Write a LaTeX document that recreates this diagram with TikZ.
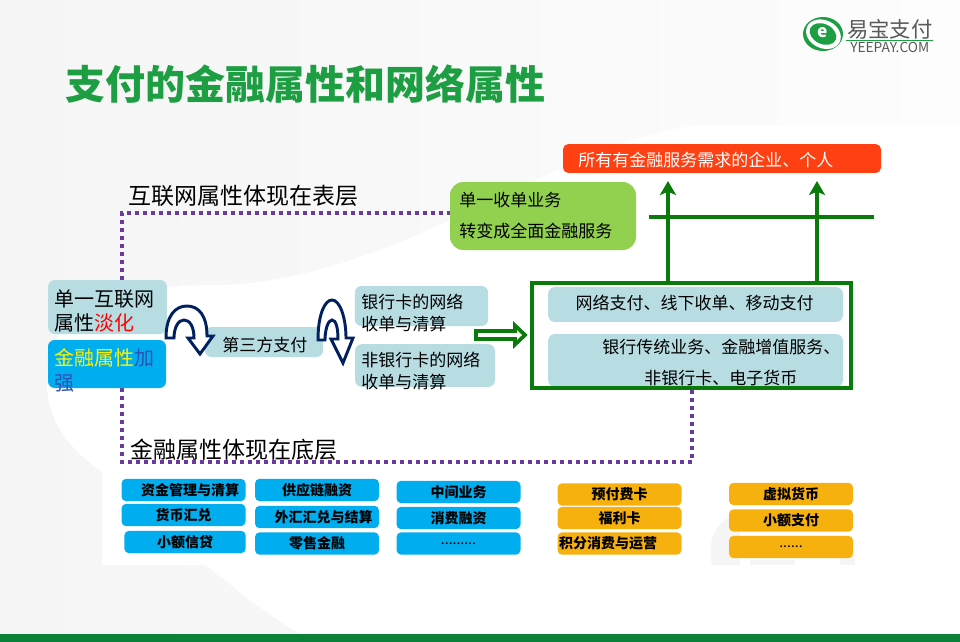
\documentclass[tikz,border=0pt]{standalone}
\usepackage{fontspec}
\setmainfont{Noto Sans CJK SC}
\usetikzlibrary{arrows.meta}
\definecolor{paleblue}{HTML}{B7DDE3}
\definecolor{skyblue}{HTML}{00AEEF}
\definecolor{amber}{HTML}{F7B10F}
\definecolor{leaf}{HTML}{92D050}
\definecolor{redbar}{HTML}{FF4012}
\definecolor{darkgreen}{HTML}{0A7B0A}
\definecolor{titlegreen}{HTML}{1E9E42}
\definecolor{footgreen}{HTML}{0B8238}
\definecolor{dotpurple}{HTML}{6B3A9E}
\definecolor{navy}{HTML}{002060}
\definecolor{inkblue}{HTML}{2F4FB5}
\definecolor{faint}{HTML}{F5F5F5}
\definecolor{fainter}{HTML}{FDFDFD}
\tikzset{
  roundbox/.style={rounded corners=5pt,inner sep=0pt,text=black},
  palebox/.style={roundbox,fill=paleblue},
  bluebox/.style={roundbox,rounded corners=3.5pt,fill=skyblue,minimum width=93pt,minimum height=16.8pt,font=\fontsize{10.5}{12}\selectfont\bfseries},
  amberbox/.style={bluebox,fill=amber},
  bodytext/.style={inner sep=0pt,align=left,anchor=west,font=\fontsize{12.75}{16.5}\selectfont},
  headtext/.style={inner sep=0pt,anchor=west,font=\fontsize{17.25}{20}\selectfont},
  dotline/.style={dotpurple,line width=2.8pt,dash pattern=on 2.8pt off 3.2pt},
  greenline/.style={darkgreen,line width=3pt},
  uparrow/.style={greenline,-{Stealth[length=10.5pt,width=12pt,inset=2.5pt]}},
  turn/.style={draw=navy,fill=white,line width=2.2pt,line join=miter}
}
\begin{document}
\begin{tikzpicture}[x=0.75pt,y=-0.75pt]
  \useasboundingbox (0,0) rectangle (960,642);
  % Background
  \shade[left color=faint,right color=fainter] (0,0) rectangle (960,634);
  \fill[white] (47,385) .. controls (47,305) and (110,285) .. (220,285) .. controls (400,280) and (560,140) .. (700,125) -- (960,125) -- (960,634) -- (300,634) .. controls (260,610) and (225,580) .. (205,565) -- (102,565) -- (102,472) .. controls (70,450) and (47,420) .. (47,385) -- cycle;
  \fill[white] (103,475) rectangle (855,565);
  \fill[faint] (712,565) .. controls (706,535) and (720,517) .. (740,514) -- (740,565) -- cycle;
  \fill[faint] (750,560) rectangle (795,565);
  \fill[faint] (840,555) rectangle (855,565);
  \fill[footgreen] (0,634) rectangle (960,642);

  % Logo
  \fill[titlegreen] (823,34) ellipse (20 and 17);
  \fill[white,rotate around={-25:(823,34)}] (823.5,34) ellipse (18 and 14);
  \fill[titlegreen,rotate around={-25:(823,34)}] (823,34) ellipse (14 and 10);
  \node[inner sep=0pt,white,font=\fontsize{13}{13}\selectfont\bfseries] (logoe) at (823,32.5) {e};
  \node[inner sep=0pt,anchor=west,text=black!65,font=\fontsize{16}{18}\selectfont] (logocn) at (847,29) {易宝支付};
  \draw[titlegreen,line width=0.8pt] (846,40.5) -- (933,40.5);
  \node[inner sep=0pt,anchor=west,text=black!65,font=\fontsize{10.3}{11}\selectfont] (logoen) at (850,47) {YEEPAY.COM};

  % Title
  \node[inner sep=0pt,anchor=west,titlegreen,font=\fontsize{30}{34}\selectfont\bfseries] (title) at (65,84) {支付的金融属性和网络属性};

  % Dotted guide lines
  \coordinate (topleft) at (122,213);
  \coordinate (topright) at (472,213);
  \coordinate (botleft) at (122,462);
  \coordinate (botright) at (692,462);
  \draw[dotline] (122,280) -- (topleft) -- (topright);
  \draw[dotline] (122,388) -- (botleft) -- (botright) -- (692,390);

  % Layer captions
  \node[headtext] (surface) at (128,196) {互联网属性体现在表层};
  \node[headtext] (bottom) at (130,450) {金融属性体现在底层};

  % Left column
  \node[palebox,minimum width=89pt,minimum height=40.5pt] (single) at (107.5,307) {};
  \node[bodytext,font=\fontsize{15}{17.5}\selectfont] (singletext) at (54,311) {单一互联网\\属性\textcolor{red}{淡化}};
  \node[roundbox,fill=skyblue,minimum width=88.5pt,minimum height=36pt] (finance) at (107,364) {};
  \node[bodytext,font=\fontsize{15}{18.5}\selectfont,text=inkblue] (financetext) at (54,370.5) {\textcolor{yellow}{金融属性}加\\强};

  % Third party payment and card clearing
  \node[palebox,minimum width=88.5pt,minimum height=22.5pt] (third) at (264,342) {};
  \node[bodytext] (thirdtext) at (222,345) {第三方支付};
  \node[palebox,minimum width=100pt,minimum height=30pt] (bank) at (421.5,306) {};
  \node[bodytext] (banktext) at (361,313) {银行卡的网络\\收单与清算};
  \node[palebox,minimum width=105pt,minimum height=32pt] (nonbank) at (425,365.5) {};
  \node[bodytext] (nonbanktext) at (361,370.5) {非银行卡的网络\\收单与清算};

  % U-turn arrows
  \draw[turn] (166,338) .. controls (166,316) and (175,306) .. (187,306) .. controls (199,306) and (207,316) .. (207,336) -- (213,336) -- (200,354) -- (188,338) -- (194,338) .. controls (194,327) and (190,320) .. (184,320) .. controls (178,320) and (174,328) .. (174,338) -- cycle;
  \draw[turn] (318,340) .. controls (318,314) and (325,300) .. (332,300) .. controls (340,300) and (346,318) .. (346,338) -- (353,338) -- (343,363) -- (331,339) -- (338,339) .. controls (338,328) and (336,320) .. (332,320) .. controls (328,320) and (325,330) .. (325,340) -- cycle;

  % Services box
  \node[palebox,minimum width=221pt,minimum height=26.2pt] (online) at (695.5,304.5) {};
  \node[inner sep=0pt,font=\fontsize{12.75}{15}\selectfont] (onlinetext) at (694.5,303) {网络支付、线下收单、移动支付};
  \node[palebox,minimum width=221pt,minimum height=39.7pt] (trad) at (695.5,360.5) {};
  \node[inner sep=0pt,anchor=west,font=\fontsize{12.75}{15}\selectfont] (tradtext) at (602,347) {银行传统业务、金融增值服务、};
  \node[inner sep=0pt,anchor=west,font=\fontsize{12.75}{15}\selectfont] (tradtexttwo) at (644,378) {非银行卡、电子货币};
  \draw[darkgreen,line width=3pt] (532,283) rectangle (851,388);
  \coordinate (servicesa) at (668,283);
  \coordinate (servicesb) at (817,283);

  % Hollow arrow into services
  \draw[darkgreen,fill=white,line width=2.8pt] (476,331) -- (515,331) -- (515,325.5) -- (525,335) -- (515,344.5) -- (515,339) -- (476,339) -- cycle;

  % Top boxes and arrows
  \node[roundbox,fill=redbar,minimum width=238.5pt,minimum height=21.7pt,rounded corners=4pt] (target) at (722,158.5) {};
  \node[bodytext,text=white] (targettext) at (578,160) {所有有金融服务需求的企业、个人};
  \node[roundbox,fill=leaf,minimum width=139.5pt,minimum height=51pt,rounded corners=10pt] (change) at (543,216) {};
  \node[bodytext,font=\fontsize{12.75}{23.2}\selectfont] (changetext) at (459,215.5) {单一收单业务\\转变成全面金融服务};
  \draw[greenline] (649,217) -- (874,217);
  \draw[uparrow] (servicesa) -- (668,181);
  \draw[uparrow] (servicesb) -- (817,181);

  % Bottom boxes
  \node[bluebox] (capital) at (183.5,490) {\hspace*{10pt}资金管理与清算};
  \node[bluebox] (forex) at (183.5,515) {货币汇兑};
  \node[bluebox,minimum width=91pt] (micro) at (185,542) {小额信贷};
  \node[bluebox] (chain) at (317,490) {供应链融资};
  \node[bluebox] (settle) at (317,517) {\hspace*{10pt}外汇汇兑与结算};
  \node[bluebox] (retail) at (317,543.5) {零售金融};
  \node[bluebox] (middle) at (458.5,492) {中间业务};
  \node[bluebox] (consume) at (458.5,518) {消费融资};
  \node[bluebox] (moreone) at (458.5,543.5) {\mdseries .........};
  \node[amberbox] (prepaid) at (619.5,494.5) {预付费卡};
  \node[amberbox] (welfare) at (619.5,518) {福利卡};
  \node[amberbox] (points) at (619.5,543.5) {积分消费与运营\hspace*{17pt}};
  \node[amberbox] (virtual) at (791,494) {虚拟货币};
  \node[amberbox] (smallpay) at (791,520.5) {小额支付};
  \node[amberbox] (moretwo) at (791,547) {\mdseries ......};
\end{tikzpicture}
\end{document}
